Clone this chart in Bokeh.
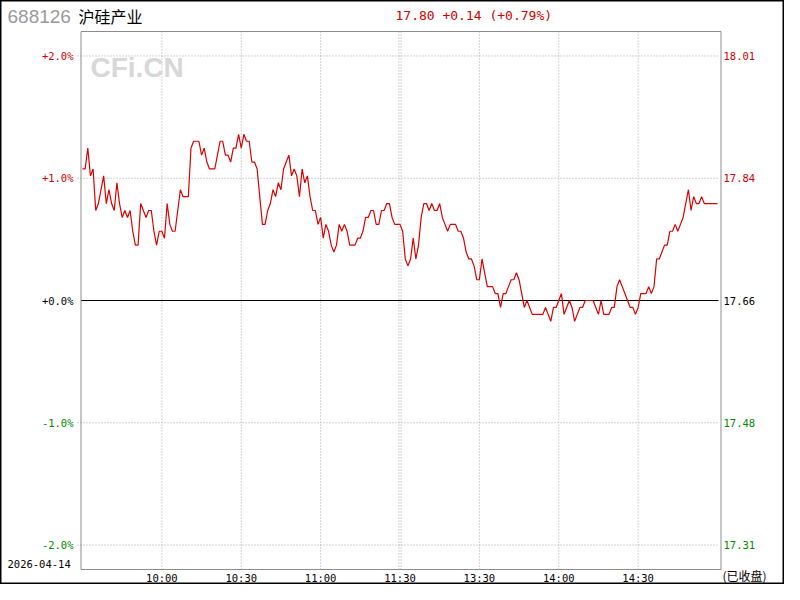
from bokeh.plotting import figure
from bokeh.models import Label, Range1d
from bokeh.embed import file_html
from bokeh.resources import INLINE

# ---------------- data ----------------
stock_code = "688126"
stock_name = "沪硅产业"
prev_close = 17.66
last_price = 17.80
trade_date = "2026-04-14"
status_text = "(已收盘)"
watermark = "CFi.CN"

# one price per minute, 9:30 .. 11:30 and 13:01 .. 15:00
morning_prices = [
    17.85, 17.85, 17.88, 17.84, 17.85, 17.79, 17.80, 17.82, 17.84, 17.80,
    17.82, 17.80, 17.79, 17.83, 17.80, 17.78, 17.79, 17.78, 17.79, 17.76,
    17.74, 17.74, 17.80, 17.79, 17.78, 17.79, 17.79, 17.76, 17.74, 17.76,
    17.76, 17.75, 17.80, 17.77, 17.76, 17.76, 17.79, 17.82, 17.81, 17.81,
    17.81, 17.88, 17.89, 17.89, 17.89, 17.87, 17.88, 17.86, 17.85, 17.85,
    17.85, 17.87, 17.89, 17.89, 17.87, 17.87, 17.86, 17.88, 17.88, 17.90,
    17.88, 17.90, 17.89, 17.89, 17.86, 17.86, 17.85, 17.81, 17.77, 17.77,
    17.79, 17.80, 17.82, 17.81, 17.83, 17.82, 17.85, 17.86, 17.87, 17.84,
    17.85, 17.84, 17.81, 17.85, 17.83, 17.84, 17.81, 17.79, 17.79, 17.77,
    17.78, 17.75, 17.77, 17.76, 17.74, 17.73, 17.74, 17.77, 17.76, 17.77,
    17.76, 17.74, 17.74, 17.74, 17.75, 17.75, 17.76, 17.78, 17.78, 17.79,
    17.79, 17.77, 17.77, 17.79, 17.79, 17.80, 17.80, 17.78, 17.77, 17.77,
    17.77,
]
afternoon_prices = [
    17.76, 17.72, 17.71, 17.72, 17.75, 17.72, 17.74, 17.78, 17.80,
    17.80, 17.79, 17.80, 17.79, 17.79, 17.80, 17.78, 17.77, 17.76, 17.77,
    17.77, 17.77, 17.76, 17.76, 17.75, 17.73, 17.72, 17.72, 17.71, 17.69,
    17.69, 17.72, 17.70, 17.68, 17.68, 17.68, 17.67, 17.67, 17.65, 17.67,
    17.67, 17.68, 17.69, 17.69, 17.70, 17.69, 17.67, 17.65, 17.66, 17.65,
    17.64, 17.64, 17.64, 17.64, 17.64, 17.65, 17.64, 17.63, 17.65, 17.65,
    17.66, 17.67, 17.64, 17.65, 17.66, 17.65, 17.63, 17.64, 17.65, 17.65,
    17.66, 17.66, 17.66, 17.66, 17.65, 17.64, 17.66, 17.64, 17.64, 17.64,
    17.65, 17.65, 17.68, 17.69, 17.68, 17.67, 17.66, 17.65, 17.65, 17.64,
    17.65, 17.67, 17.67, 17.67, 17.68, 17.67, 17.68, 17.72, 17.72, 17.73,
    17.74, 17.74, 17.76, 17.76, 17.77, 17.76, 17.77, 17.78, 17.80, 17.82,
    17.79, 17.81, 17.80, 17.80, 17.81, 17.80, 17.80, 17.80, 17.80, 17.80,
    17.80,
]

time_ticks = [30, 60, 90, 120, 150, 180, 210]
time_labels = ["10:00", "10:30", "11:00", "11:30", "13:30", "14:00", "14:30"]
pct_ticks = [2.0, 1.0, 0.0, -1.0, -2.0]
pct_labels = ["+2.0%", "+1.0%", "+0.0%", "-1.0%", "-2.0%"]
price_labels = ["18.01", "17.84", "17.66", "17.48", "17.31"]

# ---------------- derived ----------------
prices = morning_prices + afternoon_prices
minutes = list(range(len(prices)))
pct = [(v / prev_close - 1.0) * 100.0 for v in prices]
chg = last_price - prev_close
header = f"{last_price:.2f} {chg:+.2f} ({chg / prev_close * 100:+.2f}%)"

# geometry in page pixels
W, H = 784, 584
PX_PER_MIN = 635.0 / 240.0
PX_PER_PCT = 269.0 / 2.2
X0_PX = 82.0      # x pixel of 9:30
Y0_PX = 300.0     # y pixel of the previous close


def dx(px):
    return (px - X0_PX) / PX_PER_MIN


def dy(py):
    return (Y0_PX - py) / PX_PER_PCT


# chart panel (data limits)
X_LO, X_HI = dx(80.5), dx(720.5)
Y_LO, Y_HI = -2.2, 2.2

RED = "#d00000"
GREEN = "#008a00"
GRID = "#a8a8a8"
MONO = "DejaVu Sans Mono"
CJK = "Noto Sans CJK SC"

p = figure(
    frame_width=W, frame_height=H, min_border=0,
    x_range=Range1d(dx(0), dx(W)), y_range=Range1d(dy(H), dy(0)),
    x_axis_type=None, y_axis_type=None,
    toolbar_location=None, output_backend="svg", title=None,
)
p.background_fill_color = "white"
p.border_fill_color = "white"
p.outline_line_color = "black"
p.outline_line_width = 2

# horizontal grid
hticks = [t for t in pct_ticks if t != 0]
p.segment(x0=[dx(77)] * len(hticks), x1=[dx(718)] * len(hticks), y0=hticks, y1=hticks,
          line_color=GRID, line_width=1, line_dash="1 2")
# vertical grid (double line at the midday break)
vx = []
for t, lab in zip(time_ticks, time_labels):
    vx += [t - 0.4, t + 0.4] if lab == "11:30" else [t]
p.segment(x0=vx, x1=vx, y0=[Y_LO] * len(vx), y1=[Y_HI] * len(vx),
          line_color=GRID, line_width=1, line_dash="1 2")
# previous-close line
p.segment(x0=[X_LO], x1=[dx(718)], y0=[0.0], y1=[0.0], line_color="black", line_width=1)

# watermark
p.add_layout(Label(x=dx(90), y=dy(67), text=watermark, text_font="Liberation Sans",
                   text_font_style="bold", text_font_size="28px", text_color="#d8d8d8",
                   text_baseline="middle", text_align="left"))

# price line
p.line(minutes, pct, line_color="#dd0000", line_width=1.2)

# panel border
p.quad(left=[X_LO], right=[X_HI], bottom=[Y_LO], top=[Y_HI], fill_color=None,
       line_color="#8c8c8c", line_width=1)

# y labels
for t, lab, plab in zip(pct_ticks, pct_labels, price_labels):
    col = RED if t > 0 else (GREEN if t < 0 else "black")
    p.add_layout(Label(x=dx(73), y=t, text=lab, text_align="right", text_baseline="middle",
                       text_font=MONO, text_font_size="10.5px", text_color=col))
    p.add_layout(Label(x=dx(723), y=t, text=plab, text_align="left", text_baseline="middle",
                       text_font=MONO, text_font_size="10.5px", text_color=col))

# x labels
for t, lab in zip(time_ticks, time_labels):
    p.add_layout(Label(x=t, y=dy(577), text=lab, text_align="center", text_baseline="middle",
                       text_font=MONO, text_font_size="10.5px", text_color="black"))
p.add_layout(Label(x=dx(7), y=dy(563), text=trade_date, text_align="left",
                   text_baseline="middle", text_font=MONO, text_font_size="10.5px",
                   text_color="black"))
p.add_layout(Label(x=dx(722), y=dy(575), text=status_text, text_align="left",
                   text_baseline="middle", text_font=CJK, text_font_size="12px",
                   text_color="black"))

# header
p.add_layout(Label(x=dx(7), y=dy(16), text=stock_code, text_align="left",
                   text_baseline="middle", text_font="Liberation Sans",
                   text_font_size="19px", text_color="#9a9a9a"))
p.add_layout(Label(x=dx(78), y=dy(15), text=stock_name, text_align="left",
                   text_baseline="middle", text_font=CJK, text_font_size="16px",
                   text_color="black"))
p.add_layout(Label(x=dx(395), y=dy(15), text=header, text_align="left",
                   text_baseline="middle", text_font=MONO, text_font_size="13px",
                   text_color=RED))

open("out.html", "w").write(file_html(p, INLINE))
